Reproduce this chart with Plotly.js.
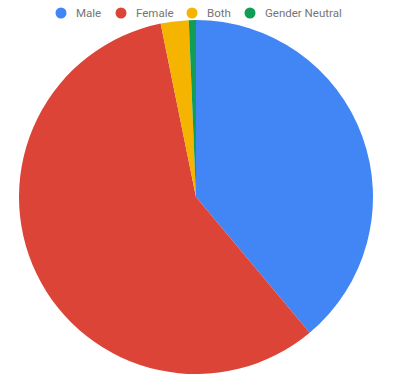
<!DOCTYPE html>
<html>
<head>
<meta charset="utf-8">
<script src="https://cdn.plot.ly/plotly-3.0.1.min.js"></script>
<style>
  html, body { margin: 0; padding: 0; background: #fff; }
  #chart { width: 400px; height: 390px; }
</style>
</head>
<body>
<div id="chart"></div>
<script>
// Gender split (percent of total)
const categories = ["Male", "Female", "Both", "Gender Neutral"];
const shares = [38.9, 57.9, 2.55, 0.65];
const colors = ["#4285F4", "#DB4437", "#F4B400", "#0F9D58"];

const W = 400, H = 390;

const pie = {
  type: "pie",
  labels: categories,
  values: shares,
  sort: false,
  direction: "clockwise",
  rotation: 0,
  textinfo: "none",
  hoverinfo: "label+percent",
  showlegend: false,
  marker: { colors: colors, line: { width: 0 } },
  domain: { x: [19 / W, 373 / W], y: [16 / H, 370 / H] }
};

// Compact top legend: a dot plus label for each category
const legendDotX = [61, 121, 192, 250];   // px, dot centres
const legendY = 13;                       // px from top
const dotR = 5.5;
const labelGap = 13;

const shapes = categories.map((c, i) => ({
  type: "circle",
  xref: "paper", yref: "paper",
  xsizemode: "pixel", ysizemode: "pixel",
  xanchor: legendDotX[i] / W, yanchor: 1 - legendY / H,
  x0: -dotR, x1: dotR, y0: -dotR, y1: dotR,
  fillcolor: colors[i],
  line: { width: 0 }
}));

const annotations = categories.map((c, i) => ({
  text: c,
  xref: "paper", yref: "paper",
  x: (legendDotX[i] + labelGap) / W,
  y: 1 - legendY / H,
  xanchor: "left", yanchor: "middle",
  showarrow: false,
  font: { family: "Roboto, Arial, sans-serif", size: 11.5, color: "#757575" }
}));

const layout = {
  width: W,
  height: H,
  margin: { l: 0, r: 0, t: 0, b: 0 },
  paper_bgcolor: "#ffffff",
  plot_bgcolor: "#ffffff",
  font: { family: "Roboto, Arial, sans-serif", size: 12, color: "#757575" },
  showlegend: false,
  shapes: shapes,
  annotations: annotations
};

Plotly.newPlot("chart", [pie], layout, { displayModeBar: false, staticPlot: true });
</script>
</body>
</html>
